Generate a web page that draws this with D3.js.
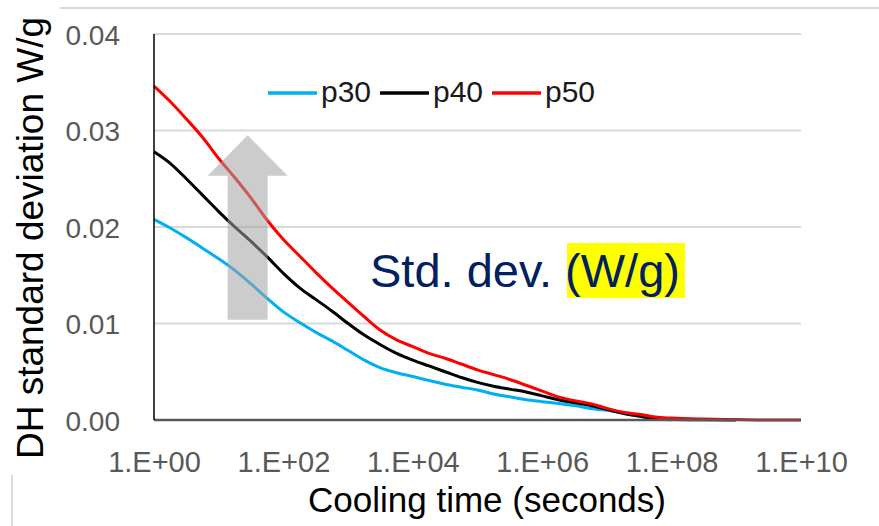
<!DOCTYPE html>
<html>
<head>
<meta charset="utf-8">
<script src="https://cdn.jsdelivr.net/npm/d3@7"></script>
<style>
  body { margin: 0; background: #fff; }
  svg { display: block; font-family: "Liberation Sans", Arial, sans-serif; }
</style>
</head>
<body>
<svg id="chart" width="879" height="526"></svg>
<script>
// cooling time (s), quarter decades up to 1e8 then coarser
var coolingTime = [
  1, 1.78, 3.16, 5.62, 1e1, 1.78e1, 3.16e1, 5.62e1, 1e2, 1.78e2, 3.16e2, 5.62e2,
  1e3, 1.78e3, 3.16e3, 5.62e3, 1e4, 1.78e4, 3.16e4, 5.62e4, 1e5, 1.78e5, 3.16e5, 5.62e5,
  1e6, 1.78e6, 3.16e6, 5.62e6, 1e7, 1.78e7, 3.16e7, 5.62e7, 1e8, 3.16e8, 1e9, 3.16e9, 1e10
];
var p30 = [
  0.0208, 0.0199, 0.0189, 0.0178, 0.0167, 0.0155, 0.0141, 0.0126, 0.0112, 0.0101, 0.0091, 0.0082,
  0.0072, 0.0062, 0.0054, 0.0049, 0.0045, 0.0041, 0.0037, 0.0034, 0.0031, 0.0027, 0.0024, 0.0021,
  0.0019, 0.0017, 0.0015, 0.0012, 0.0010, 0.0007, 0.0004, 0.0002, 0.0000, null, null, null, null
];
var p40 = [
  0.0278, 0.0266, 0.0250, 0.0233, 0.0216, 0.0200, 0.0185, 0.0169, 0.0152, 0.0137, 0.0125, 0.0113,
  0.0100, 0.0088, 0.0078, 0.0069, 0.0062, 0.0056, 0.0050, 0.0044, 0.0039, 0.0035, 0.0032, 0.0029,
  0.0025, 0.0021, 0.0018, 0.0015, 0.0011, 0.0007, 0.0004, 0.0001, 0.00005, 0.00003, 0.0000, null, null
];
var p50 = [
  0.0346, 0.0330, 0.0312, 0.0293, 0.0271, 0.0251, 0.0230, 0.0207, 0.0187, 0.0170, 0.0153, 0.0137,
  0.0122, 0.0107, 0.0093, 0.0083, 0.0076, 0.0069, 0.0064, 0.0058, 0.0052, 0.0047, 0.0042, 0.0036,
  0.0030, 0.0024, 0.0020, 0.0017, 0.0012, 0.0008, 0.0006, 0.0003, 0.0002, 0.0001, 0.00005, 0.0000, 0.0000
];
var seriesNames = ['p30', 'p40', 'p50'];
var seriesColors = ['#00b0f0', '#000000', '#ff0000'];
var xTicks = [1, 1e2, 1e4, 1e6, 1e8, 1e10];
var yTicks = [0, 0.01, 0.02, 0.03, 0.04];

// grey "increasing" arrow, in data units
var arrowTime = 28, arrowFrom = 0.0104, arrowHead = 0.0253, arrowTo = 0.0295;

var svg = d3.select('#chart');
var x = d3.scaleLog().domain([1, 1e10]).range([154, 801]);
var y = d3.scaleLinear().domain([0, 0.04]).range([420, 34]);

// stray frame lines from the original screenshot
svg.append('line').attr('x1', 60).attr('x2', 879).attr('y1', 8).attr('y2', 8)
  .attr('stroke', '#d9d9d9').attr('stroke-width', 2);
svg.append('line').attr('x1', 12).attr('x2', 12).attr('y1', 475).attr('y2', 526)
  .attr('stroke', '#d9d9d9').attr('stroke-width', 2);

// gridlines
svg.append('g').selectAll('line')
  .data(yTicks.filter(function(d) { return d > 0; }))
  .join('line')
  .attr('x1', x(1)).attr('x2', x(1e10))
  .attr('y1', function(d) { return y(d); }).attr('y2', function(d) { return y(d); })
  .attr('stroke', '#d9d9d9').attr('stroke-width', 2);

// y axis
var yAxis = svg.append('g').attr('transform', 'translate(120,0)')
  .call(d3.axisLeft(y).tickValues(yTicks).tickFormat(d3.format('.2f')).tickSize(0).tickPadding(0));
yAxis.select('.domain').remove();
yAxis.selectAll('text').attr('fill', '#595959').style('font-size', '28px').attr('dy', '0.36em');

// x axis
function expLabel(d) {
  var e = Math.round(Math.log10(d));
  return '1.E+' + (e < 10 ? '0' + e : e);
}
var xAxis = svg.append('g').attr('transform', 'translate(0,446)')
  .call(d3.axisBottom(x).tickValues(xTicks).tickFormat(expLabel).tickSize(0).tickPadding(0));
xAxis.select('.domain').remove();
xAxis.selectAll('text').attr('fill', '#595959').style('font-size', '29px').attr('dy', '0.9em');

// series lines
var line = d3.line()
  .x(function(d) { return x(d.t); })
  .y(function(d) { return y(d.v); })
  .curve(d3.curveMonotoneX);
[p30, p40, p50].forEach(function(vals, i) {
  var pts = coolingTime.map(function(t, j) { return {t: t, v: vals[j]}; })
    .filter(function(d) { return d.v !== null; });
  svg.append('path').datum(pts)
    .attr('d', line)
    .attr('fill', 'none')
    .attr('stroke', seriesColors[i])
    .attr('stroke-width', 3)
    .attr('stroke-linejoin', 'round');
});

// axis lines
svg.append('line').attr('x1', x(1)).attr('x2', x(1e10)).attr('y1', y(0)).attr('y2', y(0))
  .attr('stroke', '#595959').attr('stroke-width', 2.5);
svg.append('line').attr('x1', x(1)).attr('x2', x(1)).attr('y1', y(0.04)).attr('y2', y(0))
  .attr('stroke', '#000').attr('stroke-width', 1.5);

// arrow
var ax = x(arrowTime);
var arrowPts = [
  [ax - 20, y(arrowFrom)], [ax - 20, y(arrowHead)], [ax - 40, y(arrowHead)],
  [ax, y(arrowTo)], [ax + 40, y(arrowHead)], [ax + 20, y(arrowHead)], [ax + 20, y(arrowFrom)]
];
svg.append('polygon')
  .attr('points', arrowPts.map(function(p) { return p.join(','); }).join(' '))
  .attr('fill', '#a3a3a3').attr('fill-opacity', 0.55);

// legend
var legend = svg.append('g');
var legendX = [268, 380, 492];
seriesNames.forEach(function(name, i) {
  legend.append('line')
    .attr('x1', legendX[i]).attr('x2', legendX[i] + 49).attr('y1', 93).attr('y2', 93)
    .attr('stroke', seriesColors[i]).attr('stroke-width', 3.5);
  legend.append('text')
    .attr('x', legendX[i] + 53).attr('y', 102)
    .attr('fill', '#1a1a1a').style('font-size', '30px')
    .text(name);
});

// annotation
svg.append('rect').attr('x', 567).attr('y', 243).attr('width', 118).attr('height', 55)
  .attr('fill', '#ffff00');
svg.append('text').attr('x', 370).attr('y', 287)
  .attr('fill', '#002060').style('font-size', '47px')
  .text('Std. dev. (W/g)');

// axis titles
svg.append('text')
  .attr('transform', 'translate(43,238) rotate(-90)')
  .attr('text-anchor', 'middle').attr('fill', '#000').style('font-size', '37px')
  .text('DH standard deviation W/g');
svg.append('text')
  .attr('x', 487).attr('y', 512)
  .attr('text-anchor', 'middle').attr('fill', '#000').style('font-size', '35px')
  .text('Cooling time (seconds)');
</script>
</body>
</html>
